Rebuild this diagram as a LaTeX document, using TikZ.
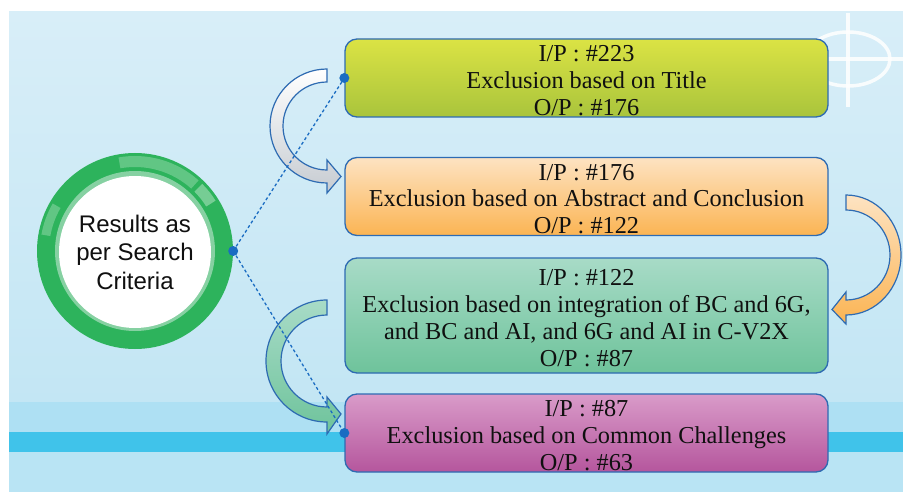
\documentclass[tikz,border=0pt]{standalone}
\usepackage{fontspec}
\setmainfont{Liberation Serif}
\newfontfamily\labelsans{Liberation Sans}
\usetikzlibrary{calc}

\definecolor{bgtop}{HTML}{D8EEF8}
\definecolor{bgmid}{HTML}{C3E6F4}
\definecolor{bgband}{HTML}{AEE0F3}
\definecolor{bgstripe}{HTML}{40C3EA}
\definecolor{bglow}{HTML}{B9E4F4}
\definecolor{edgeblue}{HTML}{2E6BB2}
\definecolor{dotblue}{HTML}{1A6CC2}
\definecolor{ringgreen}{HTML}{2DB35C}
\definecolor{ringlight}{HTML}{86D1A2}
\definecolor{limetop}{HTML}{DBE344}
\definecolor{limebot}{HTML}{A9C43C}
\definecolor{orangetop}{HTML}{FDE3C2}
\definecolor{orangebot}{HTML}{FBB453}
\definecolor{mintop}{HTML}{A8DBC7}
\definecolor{mintbot}{HTML}{6EC39B}
\definecolor{plumtop}{HTML}{D99BC9}
\definecolor{plumbot}{HTML}{B5569D}
\definecolor{greybot}{HTML}{C6CBD1}
\definecolor{inktext}{HTML}{101010}

\tikzset{
  stagebox/.style={draw=edgeblue, line width=1.3pt, rounded corners=12pt,
    minimum width=483pt, minimum height=78pt, inner sep=0pt},
  stagetext/.style={inner sep=0pt, align=center, text=inktext,
    font=\fontsize{24.3}{26.8}\selectfont},
  bandarrow/.style={draw=edgeblue, line width=1.2pt, line join=miter},
  dashlink/.style={dotblue, line width=1.3pt, dash pattern=on 3pt off 2.5pt},
  gloss/.style={fill=white, opacity=#1},
}

\begin{document}
\begin{tikzpicture}[x=1pt,y=-1pt]
\useasboundingbox (0,0) rectangle (903,492);
\fill[white] (0,0) rectangle (903,492);

% backdrop panel with its horizontal bands
\shade[top color=bgtop, bottom color=bgmid] (9,12) rectangle (903,402);
\fill[bgband] (9,402) rectangle (903,432);
\fill[bgstripe] (9,432) rectangle (903,452);
\fill[bglow] (9,452) rectangle (903,492);

% crosshair ornament, top right
\begin{scope}[white, opacity=.85, line width=3.5pt]
  \draw (848,59) ellipse[x radius=42, y radius=27];
  \draw (848,13) -- (848,107);
  \draw (815,59) -- (903,59);
\end{scope}

% the four screening stages
\node[stagebox, top color=limetop, bottom color=limebot] (b1) at (586.5,78) {};
\node[stagebox, top color=orangetop, bottom color=orangebot] (b2) at (586.5,196.5) {};
\node[stagebox, top color=mintop, bottom color=mintbot, minimum height=115pt] (b3) at (586.5,315.5) {};
\node[stagebox, top color=plumtop, bottom color=plumbot] (b4) at (586.5,433) {};
\node[stagetext] (t1) at ($(b1.center)+(0,2.5)$)
  {I/P : \#223\\Exclusion based on Title\\O/P : \#176};
\node[stagetext] (t2) at ($(b2.center)+(0,2.5)$)
  {I/P : \#176\\Exclusion based on Abstract and Conclusion\\O/P : \#122};
\node[stagetext] (t3) at ($(b3.center)+(0,2.5)$)
  {I/P : \#122\\Exclusion based on integration of BC and 6G,\\and BC and AI, and 6G and AI in C-V2X\\O/P : \#87};
\node[stagetext] (t4) at ($(b4.center)+(0,2.5)$)
  {I/P : \#87\\Exclusion based on Common Challenges\\O/P : \#63};

% search results ring
\coordinate (c) at (135,251);
\fill[ringgreen] (c) circle (98);
\fill[gloss=.25] ($(c)+(-100:95)$) arc[start angle=-100, end angle=-48, radius=95]
  -- ($(c)+(-48:84)$) arc[start angle=-48, end angle=-100, radius=84] -- cycle;
\fill[gloss=.35] ($(c)+(-45:95)$) arc[start angle=-45, end angle=-32, radius=95]
  -- ($(c)+(-32:84)$) arc[start angle=-32, end angle=-45, radius=84] -- cycle;
\fill[gloss=.25] ($(c)+(-150:95)$) arc[start angle=-150, end angle=-170, radius=95]
  -- ($(c)+(-170:86)$) arc[start angle=-170, end angle=-150, radius=86] -- cycle;
\fill[ringlight] (c) circle (80);
\node[circle, fill=white, minimum size=152pt, inner sep=0pt, align=center,
  font=\labelsans\fontsize{24}{28.5}\selectfont, text=inktext] (rt) at ($(c)+(0,1)$)
  {Results as\\per Search\\Criteria};
\node[circle, minimum size=196pt, inner sep=0pt] (res) at (c) {};

% curved hand-over arrows between stages
\draw[bandarrow, top color=white, bottom color=greybot]
  (327,69) arc[start angle=270, end angle=90, radius=57]
  -- (327,193) -- (341,176.5) -- (327,160) -- (327,170)
  arc[start angle=90, end angle=270, radius=44] -- cycle;
\draw[bandarrow, top color=orangetop, bottom color=orangebot]
  (846,195) arc[start angle=270, end angle=450, x radius=55, y radius=60]
  -- (846,324) -- (832,309.5) -- (846,292) -- (846,300)
  arc[start angle=90, end angle=-90, x radius=44, y radius=45] -- cycle;
\draw[bandarrow, top color=mintop, bottom color=mintbot]
  (327,300) arc[start angle=270, end angle=90, radius=61]
  -- (327,434) -- (341,414) -- (327,397) -- (327,407)
  arc[start angle=90, end angle=270, radius=46] -- cycle;

% dotted links from the results ring
\draw[dashlink] (res.east) -- (b1.west);
\draw[dashlink] (res.east) -- (b4.west);
\foreach \p in {res.east, b1.west, b4.west}
  \fill[dotblue] (\p) circle (5);
\end{tikzpicture}
\end{document}
